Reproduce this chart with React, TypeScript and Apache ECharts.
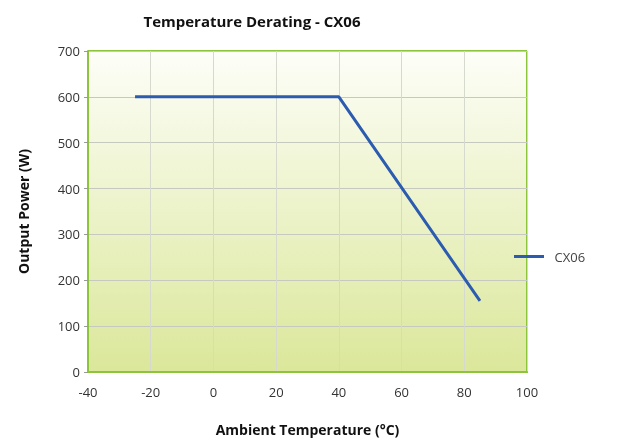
import React, { useEffect, useRef } from "react";
import * as echarts from "echarts";

const temperatures = [-25, 40, 85];
const powers = [600, 600, 155];
const seriesName = "CX06";
const xTicks = { min: -40, max: 100, interval: 20 };
const yTicks = { min: 0, max: 700, interval: 100 };

export default function App() {
  const ref = useRef<HTMLDivElement>(null);
  useEffect(() => {
    if (!ref.current) return;
    const chart = echarts.init(ref.current, null, { renderer: "svg" });
    const font = "'Open Sans', sans-serif";
    chart.setOption({
      animation: false,
      title: {
        text: "Temperature Derating - CX06",
        left: 247,
        top: 8,
        textAlign: "center",
        textStyle: { fontSize: 15, fontWeight: "bold", color: "#111", fontFamily: font },
      },
      grid: { left: 88, right: 114, top: 51, bottom: 68, show: true, borderWidth: 0,
        backgroundColor: new echarts.graphic.LinearGradient(0, 0, 0, 1, [
          { offset: 0, color: "#fdfef8" },
          { offset: 1, color: "#dbe79a" },
        ]) },
      legend: {
        left: 509,
        top: 245,
        orient: "vertical",
        icon: "path://M0,0H30V3H0Z",
        itemWidth: 31,
        itemHeight: 3,
        itemGap: 8,
        textStyle: { fontSize: 13, color: "#444", fontFamily: font, padding: [0, 0, 0, 5] },
        data: [seriesName],
      },
      xAxis: {
        type: "value",
        min: xTicks.min,
        max: xTicks.max,
        interval: xTicks.interval,
        name: "Ambient Temperature (°C)",
        nameLocation: "middle",
        nameGap: 50,
        nameTextStyle: { fontSize: 14, fontWeight: "bold", color: "#111", fontFamily: font },
        axisLine: { show: true, onZero: false, lineStyle: { color: "#8cc43c", width: 2 } },
        axisTick: { show: false },
        axisLabel: { fontSize: 13, color: "#333", margin: 13, fontFamily: font },
        splitLine: { show: true, lineStyle: { color: "#d6d9ce", width: 1 } },
      },
      yAxis: {
        type: "value",
        min: yTicks.min,
        max: yTicks.max,
        interval: yTicks.interval,
        name: "Output Power (W)",
        nameLocation: "middle",
        nameGap: 58,
        nameTextStyle: { fontSize: 14, fontWeight: "bold", color: "#111", fontFamily: font },
        axisLine: { show: true, onZero: false, lineStyle: { color: "#8cc43c", width: 2 } },
        axisTick: { show: true, length: 4, lineStyle: { color: "#999" } },
        axisLabel: { fontSize: 13, color: "#333", margin: 8, fontFamily: font },
        splitLine: { show: true, lineStyle: { color: "#c6c9c0", width: 1 } },
      },
      graphic: [
        {
          type: "line",
          shape: { x1: 527, y1: 51, x2: 527, y2: 373 },
          style: { stroke: "#8cc43c", lineWidth: 2 },
        },
        {
          type: "line",
          shape: { x1: 88, y1: 51, x2: 527, y2: 51 },
          style: { stroke: "#8cc43c", lineWidth: 2 },
        },
      ],
      series: [
        {
          name: seriesName,
          type: "line",
          data: temperatures.map((t, i) => [t, powers[i]]),
          symbol: "none",
          lineStyle: { color: "#2c5cb0", width: 3 },
          itemStyle: { color: "#2c5cb0" },
        },
      ],
    });
    return () => chart.dispose();
  }, []);
  return (
    <div
      ref={ref}
      style={{ position: "fixed", left: 0, top: 0, width: 641, height: 441 }}
    />
  );
}
